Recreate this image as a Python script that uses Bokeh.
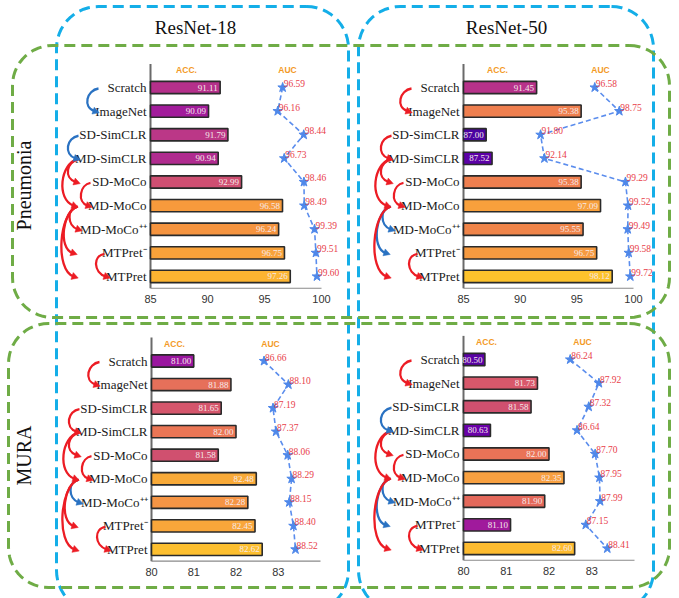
import numpy as np
from bokeh.plotting import figure
from bokeh.models import Range1d, ColumnDataSource
from bokeh.core.properties import value
from bokeh.embed import file_html
from bokeh.resources import INLINE

# ---------------- data ----------------
methods = ["Scratch", "ImageNet", "SD-SimCLR", "MD-SimCLR", "SD-MoCo",
           "MD-MoCo", "MD-MoCo\u207A\u207A", "MTPret\u207B", "MTPret"]
backbones = ["ResNet-18", "ResNet-50"]
datasets = ["Pneumonia", "MURA"]

acc_pn_r18 = [91.11, 90.09, 91.79, 90.94, 92.99, 96.58, 96.24, 96.75, 97.26]
auc_pn_r18 = [96.59, 96.16, 98.44, 96.73, 98.46, 98.49, 99.39, 99.51, 99.60]
acc_pn_r50 = [91.45, 95.38, 87.00, 87.52, 95.38, 97.09, 95.55, 96.75, 98.12]
auc_pn_r50 = [96.58, 98.75, 91.80, 92.14, 99.29, 99.52, 99.49, 99.58, 99.72]
acc_mu_r18 = [81.00, 81.88, 81.65, 82.00, 81.58, 82.48, 82.28, 82.45, 82.62]
auc_mu_r18 = [86.66, 88.10, 87.19, 87.37, 88.06, 88.29, 88.15, 88.40, 88.52]
acc_mu_r50 = [80.50, 81.73, 81.58, 80.63, 82.00, 82.35, 81.90, 81.10, 82.60]
auc_mu_r50 = [86.24, 87.92, 87.32, 86.64, 87.70, 87.95, 87.99, 87.15, 88.41]

ticks_pn = [85, 90, 95, 100]
ticks_mu = [80, 81, 82, 83]
acc_lim_pn, auc_lim_pn = (85, 100), (85, 100)
acc_lim_mu, auc_lim_mu = (80, 84), (80, 90)

# comparison arrows between methods (from row, to row)
arrow_pairs = [(0, 1), (2, 3), (3, 4), (3, 5), (4, 5), (5, 6), (5, 7), (5, 8), (7, 8)]
arrows_pn_r18 = ["b", "b", "r", "r", "r", "r", "r", "r", "r"]
arrows_pn_r50 = ["r", "r", "r", "r", "r", "b", "b", "r", "r"]
arrows_mu_r18 = ["r", "r", "r", "r", "r", "b", "r", "r", "r"]
arrows_mu_r50 = ["r", "b", "r", "r", "r", "b", "b", "r", "r"]

# ---------------- styles / layout ----------------
bars_pn_r18 = ["#b5308b", "#a21c9b", "#bb3787", "#b02b8f", "#cf4f72",
               "#f79a3c", "#f5943f", "#f9a23a", "#fcb431"]
bars_pn_r50 = ["#b7328a", "#ef7f4f", "#4a03a1", "#5c01a6", "#ef7f4f",
               "#f8a03c", "#ef8449", "#f69a40", "#fdc22c"]
bars_mu_r18 = ["#9a169f", "#e6705a", "#d5566c", "#ea7655", "#d0506f",
               "#f9aa38", "#f59545", "#f9a63a", "#fdbf2f"]
bars_mu_r50 = ["#5a02a5", "#d8586b", "#d0506f", "#6a00a8", "#ea7357",
               "#f8a040", "#e4695b", "#a01a9c", "#fdbb2f"]

RED, BLUE = "#ec1c24", "#2a72c2"
W, H = 679, 598
SERIF, SANS = value("Liberation Serif"), value("Liberation Sans")

panels = [
    dict(acc=acc_pn_r18, auc=auc_pn_r18, acc_lim=acc_lim_pn, auc_lim=auc_lim_pn, ticks=ticks_pn,
         px=(150, 321), rowpx=(87, 23.62), hdr=(186, 287), bars=bars_pn_r18, arrows=arrows_pn_r18),
    dict(acc=acc_pn_r50, auc=auc_pn_r50, acc_lim=acc_lim_pn, auc_lim=auc_lim_pn, ticks=ticks_pn,
         px=(463, 633), rowpx=(87, 23.62), hdr=(497, 600), bars=bars_pn_r50, arrows=arrows_pn_r50),
    dict(acc=acc_mu_r18, auc=auc_mu_r18, acc_lim=acc_lim_mu, auc_lim=auc_lim_mu, ticks=ticks_mu,
         px=(151, 320), rowpx=(360.5, 23.55), hdr=(174, 270), bars=bars_mu_r18, arrows=arrows_mu_r18),
    dict(acc=acc_mu_r50, auc=auc_mu_r50, acc_lim=acc_lim_mu, auc_lim=auc_lim_mu, ticks=ticks_mu,
         px=(463, 634), rowpx=(359, 23.62), hdr=(486, 582), bars=bars_mu_r50, arrows=arrows_mu_r50),
]
# arrow geometry relative to axis (tail offset, head offset, bulge)
arrow_geom = [(-52, -56, 9), (-72, -75, 9), (-72, -75, 9), (-73, -77, 13), (-60, -63, 8),
              (-73, -73, 8), (-73, -78, 11), (-73, -77, 14), (-46, -45, 9)]

p = figure(width=W, height=H, x_range=Range1d(0, W), y_range=Range1d(H, 0),
           x_axis_type=None, y_axis_type=None, toolbar_location=None,
           output_backend="svg", min_border=0, outline_line_color=None)
p.background_fill_color = "white"

# ranges for each panel
xr, yr = {}, {}
for k, P in enumerate(panels):
    a, b = P["px"]
    lo, hi = P["acc_lim"]
    s = (b - a) / (hi - lo)
    st = lo - a / s
    xr[f"acc{k}"] = Range1d(st, st + W / s)
    alo, ahi = P["auc_lim"]
    s2 = (b - a) / (ahi - alo)
    st2 = alo - a / s2
    xr[f"auc{k}"] = Range1d(st2, st2 + W / s2)
    y0, dy = P["rowpx"]
    yr[f"row{k}"] = Range1d((H - y0) / dy, (0 - y0) / dy)
p.extra_x_ranges = xr
p.extra_y_ranges = yr


def rounded_rect(x0, y0, x1, y1, r, n=14):
    xs, ys = [], []
    corners = [(x1 - r, y0 + r, -np.pi / 2, 0), (x1 - r, y1 - r, 0, np.pi / 2),
               (x0 + r, y1 - r, np.pi / 2, np.pi), (x0 + r, y0 + r, np.pi, 1.5 * np.pi)]
    for cx, cy, t0, t1 in corners:
        t = np.linspace(t0, t1, n)
        xs += list(cx + r * np.cos(t))
        ys += list(cy + r * np.sin(t))
    xs.append(xs[0]); ys.append(ys[0])
    return xs, ys


# dashed group boxes
for (x0, y0, x1, y1, r, c) in [(56, 6, 348, 612, 42, "#14aee8"), (358, 6, 653, 612, 42, "#14aee8"),
                               (12, 45, 669, 317, 40, "#6fac46"), (8, 323, 669, 587, 40, "#6fac46")]:
    xs, ys = rounded_rect(x0, y0, x1, y1, r)
    p.line(xs, ys, line_color=c, line_width=3, line_dash="11 6")

# titles
p.text(x=[195, 506], y=[27, 27], text=backbones, text_font=SERIF, text_font_size="19px",
       text_align="center", text_baseline="middle", text_color="#111111")
p.text(x=[23, 23], y=[185, 455], text=datasets, angle=np.pi / 2, text_font=SERIF,
       text_font_size="20px", text_align="center", text_baseline="middle", text_color="#111111")

rows = list(range(len(methods)))
for k, P in enumerate(panels):
    xa, xu, yn = f"acc{k}", f"auc{k}", f"row{k}"
    lo, hi = P["acc_lim"]
    a, b = P["px"]
    y0, dy = P["rowpx"]

    # axis lines
    p.segment(x0=[lo], y0=[-1.0], x1=[lo], y1=[8.5], line_color="#6a6a6a", line_width=2,
              x_range_name=xa, y_range_name=yn)
    p.segment(x0=[lo], y0=[8.5], x1=[hi], y1=[8.5], line_color="#8a8a8a", line_width=1.2,
              x_range_name=xa, y_range_name=yn)
    p.text(x=P["ticks"], y=[8.95] * len(P["ticks"]), text=[str(t) for t in P["ticks"]],
           x_range_name=xa, y_range_name=yn, text_font=SANS, text_font_size="11px",
           text_align="center", text_baseline="middle", text_color="#333333")

    # bars
    src = ColumnDataSource(dict(y=rows, right=P["acc"], left=[lo] * len(rows), color=P["bars"],
                                lab=[f"{v:.2f}" for v in P["acc"]]))
    p.hbar(y="y", left="left", right="right", height=0.52, fill_color="color",
           line_color="#2a2a2a", line_width=1.6, source=src, x_range_name=xa, y_range_name=yn)
    p.text(x="right", y="y", text="lab", source=src, x_offset=-2.5, text_align="right",
           text_baseline="middle", text_font=SERIF, text_font_size="9px", text_color="#f6eaea",
           x_range_name=xa, y_range_name=yn)

    # method labels
    p.text(x=[lo] * len(rows), y=rows, text=methods, x_offset=-4, text_align="right",
           text_baseline="middle", text_font=SERIF, text_font_size="13px", text_color="#1a1a1a",
           x_range_name=xa, y_range_name=yn)

    # AUC
    p.line(x=P["auc"], y=rows, line_color="#5b8ded", line_width=1.6, line_dash="5 3",
           x_range_name=xu, y_range_name=yn)
    p.scatter(x=P["auc"], y=rows, marker="star", size=10, fill_color="#4f88ea",
              line_color="#4f88ea", x_range_name=xu, y_range_name=yn)
    p.text(x=P["auc"], y=rows, text=[f"{v:.2f}" for v in P["auc"]], x_offset=1, y_offset=-4,
           text_align="left", text_baseline="middle", text_font=SERIF, text_font_size="9.5px",
           text_color="#e8404a", x_range_name=xu, y_range_name=yn)

    # headers
    p.text(x=list(P["hdr"]), y=[-0.72, -0.72], text=["ACC.", "AUC"], y_range_name=yn,
           text_font=SANS, text_font_size="8.5px", text_font_style="bold",
           text_align="center", text_baseline="middle", text_color="#f39a26")

    # comparison arrows (pixel space)
    bz = dict(x0=[], y0=[], x1=[], y1=[], cx0=[], cy0=[], cx1=[], cy1=[], c=[])
    hx, hy, hc = [], [], []
    for (i, j), (toff, hoff, bul), cc in zip(arrow_pairs, arrow_geom, P["arrows"]):
        col = RED if cc == "r" else BLUE
        xt, xh = a + toff, a + hoff
        ys_, ye = y0 + i * dy + 1, y0 + j * dy
        c0x, c0y = xt - 1.33 * bul, ys_ + 0.08 * (ye - ys_)
        c1x, c1y = xh - 1.33 * bul, ye - 0.45 * bul
        bz["x0"].append(xt); bz["y0"].append(ys_); bz["x1"].append(xh); bz["y1"].append(ye)
        bz["cx0"].append(c0x); bz["cy0"].append(c0y); bz["cx1"].append(c1x); bz["cy1"].append(c1y)
        bz["c"].append(col)
        ux, uy = xh - c1x, ye - c1y
        nrm = np.hypot(ux, uy); ux, uy = ux / nrm, uy / nrm
        tipx, tipy = xh + 5 * ux, ye + 5 * uy
        bx, by = xh - 1.5 * ux, ye - 1.5 * uy
        hx.append([tipx, bx - 3.6 * uy, bx + 3.6 * uy])
        hy.append([tipy, by + 3.6 * ux, by - 3.6 * ux])
        hc.append(col)
    p.bezier(x0="x0", y0="y0", x1="x1", y1="y1", cx0="cx0", cy0="cy0", cx1="cx1", cy1="cy1",
             line_color="c", line_width=2.3, source=ColumnDataSource(bz))
    p.patches(xs=hx, ys=hy, fill_color=hc, line_color=hc, line_width=0.5)

open("out.html", "w").write(file_html(p, INLINE))
